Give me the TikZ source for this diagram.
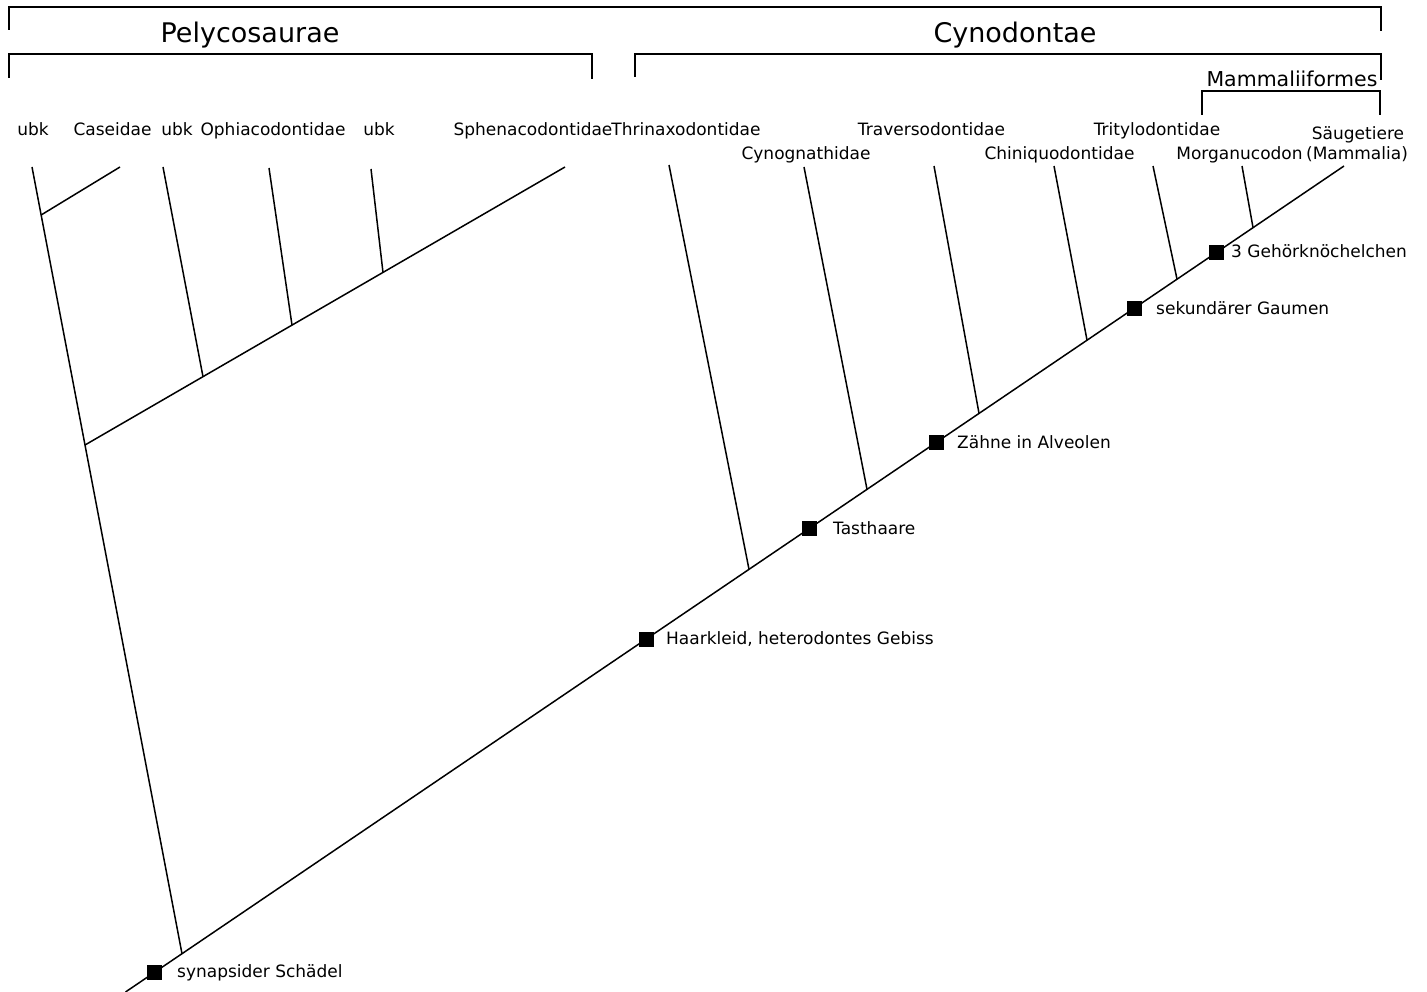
\documentclass[tikz,border=0pt]{standalone}
\usepackage{fontspec}
\setmainfont{DejaVu Sans}
\usetikzlibrary{calc}
\begin{document}
\begin{tikzpicture}[x=1pt,y=-1pt,
  branch/.style={line width=1.5pt,black},
  bracketline/.style={line width=1.6pt,black},
  taxon/.style={anchor=base,inner sep=0pt,font=\fontsize{17}{20}\selectfont},
  clade/.style={anchor=base,inner sep=0pt,font=\fontsize{27}{32}\selectfont},
  subclade/.style={anchor=base,inner sep=0pt,font=\fontsize{20.5}{24}\selectfont},
  marker/.style={fill=black,draw=none,minimum size=15pt,inner sep=0pt},
  trait/.style={anchor=base west,inner sep=0pt,font=\fontsize{17}{20}\selectfont}]
\useasboundingbox (0,0) rectangle (1427,992);
\begin{scope}
\clip (0,0) rectangle (1427,992);

% brackets
\draw[bracketline] (9,30) -- (9,7) -- (1381,7) -- (1381,31);
\draw[bracketline] (9,78) -- (9,54) -- (592,54) -- (592,79);
\draw[bracketline] (635,77) -- (635,54) -- (1381,54) -- (1381,80);
\draw[bracketline] (1202,115) -- (1202,91) -- (1380,91) -- (1380,115);

\node[clade] (pely) at (250,43) {Pelycosaurae};
\node[clade] (cyno) at (1015,43) {Cynodontae};
\node[subclade] (mamf) at (1292,87) {Mammaliiformes};

% taxon labels
\node[taxon] (ubkA) at (33,136) {ubk};
\node[taxon] (case) at (112.5,136) {Caseidae};
\node[taxon] (ubkB) at (177,136) {ubk};
\node[taxon] (ophi) at (273,136) {Ophiacodontidae};
\node[taxon] (ubkC) at (379,136) {ubk};
\node[taxon] (sphe) at (533,136) {Sphenacodontidae};
\node[taxon] (thri) at (686,136) {Thrinaxodontidae};
\node[taxon] (trav) at (931.5,136) {Traversodontidae};
\node[taxon] (trit) at (1157,136) {Tritylodontidae};
\node[taxon] (saeu) at (1358,140) {Säugetiere};
\node[taxon] (cyng) at (806,160) {Cynognathidae};
\node[taxon] (chin) at (1059.5,160) {Chiniquodontidae};
\node[taxon] (morg) at (1239.5,160) {Morganucodon};
\node[taxon] (mamm) at (1357,160) {(Mammalia)};

% coordinates: main line
\coordinate (root) at (125.5,992);
\coordinate (tip) at (1344,166);
\coordinate (jP) at (182,953.7);
\coordinate (jThri) at (749,569.3);
\coordinate (jCyng) at (867,489.3);
\coordinate (jTrav) at (979,413.3);
\coordinate (jChin) at (1087,340.1);
\coordinate (jTrit) at (1177,279.1);
\coordinate (jMorg) at (1253,227.5);

% pelycosaur branches
\coordinate (tUbkA) at (32,167);
\coordinate (jCase) at (41.1,215);
\coordinate (tCase) at (120,167);
\coordinate (jSub) at (85,445);
\coordinate (tSphe) at (565,167);
\coordinate (jUbkB) at (203,376.7);
\coordinate (tUbkB) at (163,167);
\coordinate (jOphi) at (292,325.1);
\coordinate (tOphi) at (269,168);
\coordinate (jUbkC) at (383,272.5);
\coordinate (tUbkC) at (371,169);

% cynodont tops
\coordinate (tThri) at (669,165);
\coordinate (tCyng) at (804,167);
\coordinate (tTrav) at (934,166);
\coordinate (tChin) at (1054,166);
\coordinate (tTrit) at (1153,166);
\coordinate (tMorg) at (1242,166);

\draw[branch] (root) -- (tip);
\draw[branch] (jP) -- (tUbkA);
\draw[branch] (jCase) -- (tCase);
\draw[branch] (jSub) -- (tSphe);
\draw[branch] (jUbkB) -- (tUbkB);
\draw[branch] (jOphi) -- (tOphi);
\draw[branch] (jUbkC) -- (tUbkC);
\draw[branch] (jThri) -- (tThri);
\draw[branch] (jCyng) -- (tCyng);
\draw[branch] (jTrav) -- (tTrav);
\draw[branch] (jChin) -- (tChin);
\draw[branch] (jTrit) -- (tTrit);
\draw[branch] (jMorg) -- (tMorg);
\end{scope}

% trait markers
\node[marker] (m1) at (154,972.7) {};
\node[marker] (m2) at (646,639.1) {};
\node[marker] (m3) at (809,528.6) {};
\node[marker] (m4) at (936,442.5) {};
\node[marker] (m5) at (1134,308.2) {};
\node[marker] (m6) at (1216,252.6) {};

\node[trait] (l1) at (177,977.5) {synapsider Schädel};
\node[trait] (l2) at (666,644.5) {Haarkleid, heterodontes Gebiss};
\node[trait] (l3) at (833,534) {Tasthaare};
\node[trait] (l4) at (957,448) {Zähne in Alveolen};
\node[trait] (l5) at (1156,314.5) {sekundärer Gaumen};
\node[trait] (l6) at (1231,258) {3 Gehörknöchelchen};
\end{tikzpicture}
\end{document}
